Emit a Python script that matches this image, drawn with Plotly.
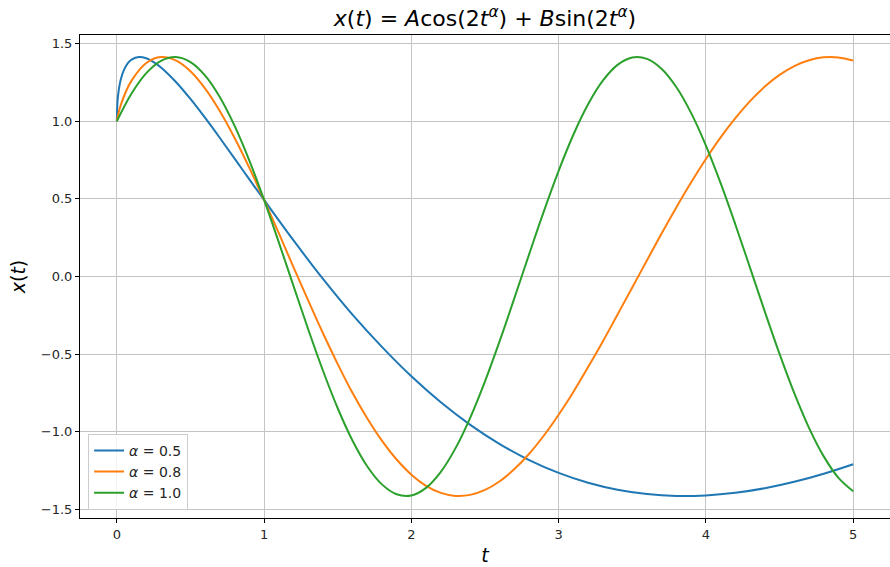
import plotly.graph_objects as go

# alpha = 0.5
t_a05 = [0, 0.005, 0.01, 0.02, 0.03, 0.05, 0.075, 0.1, 0.15, 0.2, 0.25, 0.3, 0.4, 0.5, 0.6, 0.7, 0.8, 0.9, 1.0,
         1.2, 1.4, 1.6, 1.8, 2.0, 2.2, 2.4, 2.6, 2.8, 3.0, 3.2, 3.4, 3.6, 3.8, 4.0, 4.2, 4.4, 4.6, 4.8, 5.0]
x_a05 = [1.0, 1.1310, 1.1788, 1.2394, 1.2801, 1.3341, 1.3745, 1.3977, 1.4141, 1.4059, 1.3818, 1.3469, 1.2548,
         1.1437, 1.0214, 0.8925, 0.7599, 0.6258, 0.4932, 0.2324, -0.0159, -0.2459, -0.4537, -0.6433, -0.8105,
         -0.9559, -1.0797, -1.1827, -1.2653, -1.3288, -1.3740, -1.4018, -1.4137, -1.4104, -1.3935, -1.3641,
         -1.3229, -1.2707, -1.2093]

# alpha = 0.8
t_a08 = [0, 0.02, 0.05, 0.1, 0.2, 0.3, 0.4, 0.5, 0.6, 0.7, 0.8, 0.9, 1.0, 1.1, 1.2, 1.3, 1.4, 1.5, 1.6, 1.7,
         1.8, 1.9, 2.0, 2.1, 2.2, 2.3, 2.4, 2.5, 2.6, 2.7, 2.8, 2.9, 3.0, 3.1, 3.2, 3.3, 3.4, 3.5, 3.6, 3.7,
         3.8, 3.9, 4.0, 4.1, 4.2, 4.3, 4.4, 4.5, 4.6, 4.7, 4.8, 4.9, 5.0]
x_a08 = [1.0, 1.0835, 1.1646, 1.2619, 1.3759, 1.4137, 1.3923, 1.3226, 1.2102, 1.0649, 0.8927, 0.7001, 0.4932,
         0.2795, 0.0588, -0.1556, -0.3657, -0.5642, -0.7495, -0.9127, -1.0574, -1.1792, -1.2766, -1.3484,
         -1.3941, -1.4135, -1.4070, -1.3752, -1.3189, -1.2406, -1.1419, -1.0243, -0.8906, -0.7437, -0.5837,
         -0.4188, -0.2447, -0.0703, 0.1044, 0.2785, 0.4467, 0.6069, 0.7573, 0.8961, 1.0204, 1.1303, 1.2235,
         1.2990, 1.3559, 1.3937, 1.4122, 1.4114, 1.3917]

# alpha = 1.0
t_a10 = [0, 0.1, 0.2, 0.3, 0.4, 0.5, 0.6, 0.7, 0.8, 0.9, 1.0, 1.1, 1.2, 1.3, 1.4, 1.5, 1.6, 1.7, 1.8, 1.9,
         2.0, 2.1, 2.2, 2.3, 2.4, 2.5, 2.6, 2.7, 2.8, 2.9, 3.0, 3.1, 3.2, 3.3, 3.4, 3.5, 3.6, 3.7, 3.8, 3.9,
         4.0, 4.1, 4.2, 4.3, 4.4, 4.5, 4.6, 4.7, 4.8, 4.9, 5.0]
x_a10 = [1.0, 1.1788, 1.3105, 1.3899, 1.4141, 1.3818, 1.2944, 1.1554, 0.9704, 0.7466, 0.4932, 0.2200, -0.0619,
         -0.3414, -0.6072, -0.8489, -1.0567, -1.2223, -1.3393, -1.4029, -1.4104, -1.3619, -1.2589, -1.1059,
         -0.9087, -0.6752, -0.4150, -0.1381, 0.1443, 0.4209, 0.6808, 0.9134, 1.1097, 1.2617, 1.3634, 1.4109,
         1.4021, 1.3372, 1.2192, 1.0525, 0.8439, 0.6015, 0.3353, 0.0557, -0.2262, -0.4990, -0.7519, -0.9749,
         -1.1590, -1.2969, -1.3831]

series_names = ["<i>α</i> = 0.5", "<i>α</i> = 0.8", "<i>α</i> = 1.0"]
colors = ["#1f77b4", "#ff7f0e", "#2ca02c"]

x_ticks = [0, 1, 2, 3, 4, 5]
y_ticks = [-1.5, -1.0, -0.5, 0.0, 0.5, 1.0, 1.5]
y_tick_labels = ["−1.5", "−1.0", "−0.5", "0.0", "0.5", "1.0", "1.5"]

fig = go.Figure()
for tt, xx, name, c in zip([t_a05, t_a08, t_a10], [x_a05, x_a08, x_a10], series_names, colors):
    fig.add_trace(go.Scatter(x=tt, y=xx, mode="lines", name=name,
                             line=dict(color=c, width=2, shape="spline", smoothing=1.0)))

axis_common = dict(showline=True, linecolor="#000000", linewidth=1, mirror=True,
                   showgrid=True, gridcolor="#c4c4c4", gridwidth=1, zeroline=False,
                   ticks="outside", ticklen=4, tickcolor="#000000",
                   tickfont=dict(family="DejaVu Sans", size=13, color="#262626"))

fig.update_layout(
    width=890, height=567,
    margin=dict(l=80, r=0, t=35, b=49),
    paper_bgcolor="white", plot_bgcolor="white",
    title=dict(text="<i>x</i>(<i>t</i>) = <i>A</i>cos(2<i>t</i><sup><i>α</i></sup>) + <i>B</i>sin(2<i>t</i><sup><i>α</i></sup>)",
               x=0.5, xref="paper", xanchor="center", y=0.968, yref="container", yanchor="middle",
               font=dict(family="DejaVu Sans", size=22, color="#000000")),
    xaxis=dict(range=[-0.25, 5.25], tickvals=x_ticks, ticktext=[str(v) for v in x_ticks],
               title=dict(text="<i>t</i>", font=dict(family="DejaVu Sans", size=19, color="#000000"), standoff=8),
               **axis_common),
    yaxis=dict(range=[-1.556, 1.556], tickvals=y_ticks, ticktext=y_tick_labels,
               title=dict(text="<i>x</i>(<i>t</i>)", font=dict(family="DejaVu Sans", size=19, color="#000000"), standoff=10),
               **axis_common),
    legend=dict(x=0.01, y=0.017, xanchor="left", yanchor="bottom",
                bgcolor="rgba(255,255,255,0.8)", bordercolor="#cccccc", borderwidth=1,
                font=dict(family="DejaVu Sans", size=14, color="#262626"),
                tracegroupgap=0, itemwidth=30),
    showlegend=True,
)

fig.write_html("out.html")
